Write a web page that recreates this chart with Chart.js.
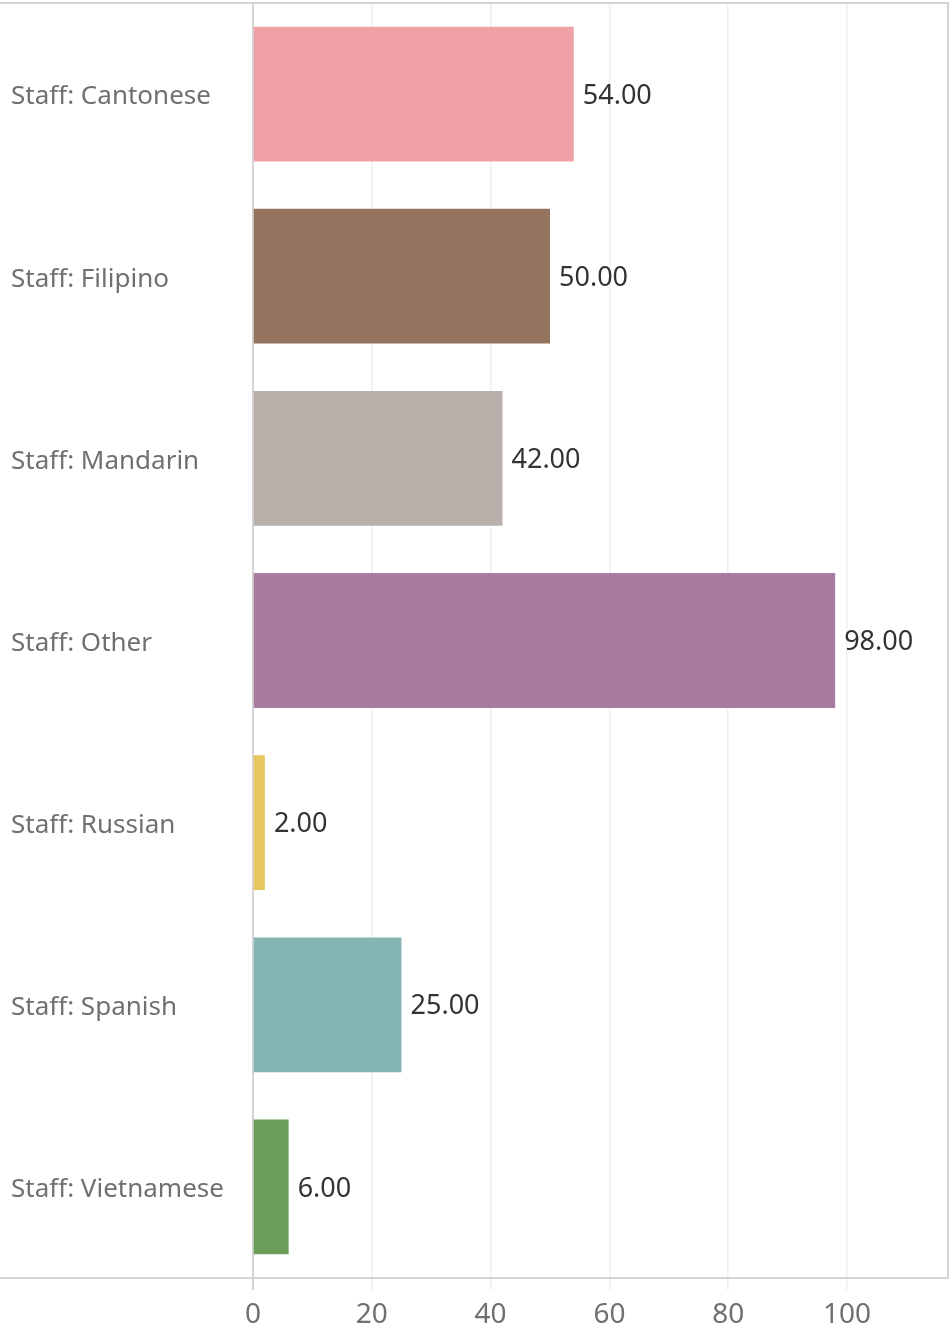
<!DOCTYPE html>
<html>
<head>
<meta charset="utf-8">
<script src="https://cdn.jsdelivr.net/npm/chart.js@4/dist/chart.umd.min.js"></script>
<style>
  body { margin: 0; background: #fff; }
  #wrap { width: 951px; height: 1328px; position: relative; }
</style>
</head>
<body>
<div id="wrap"><canvas id="staffChart"></canvas></div>
<script>
var categories = ['Staff: Cantonese', 'Staff: Filipino', 'Staff: Mandarin', 'Staff: Other',
                  'Staff: Russian', 'Staff: Spanish', 'Staff: Vietnamese'];
var staffCounts = [54, 50, 42, 98, 2, 25, 6];
var barColors = ['#f0a1a7', '#94735f', '#b9b0ab', '#a97c9f', '#e6c65e', '#85b5b3', '#6a9e58'];
var xTicks = [0, 20, 40, 60, 80, 100];

// frame lines: top, right, bottom (full width) and the zero axis running a bit below
var framePlugin = {
    id: 'frame',
    beforeDatasetsDraw: function (chart) {
        var ctx = chart.ctx, a = chart.chartArea;
        ctx.save();
        ctx.strokeStyle = '#d4d4d4';
        ctx.lineWidth = 2;
        ctx.beginPath();
        ctx.moveTo(0, a.top);
        ctx.lineTo(a.right, a.top);
        ctx.lineTo(a.right, a.bottom);
        ctx.lineTo(0, a.bottom);
        ctx.stroke();
        ctx.beginPath();
        ctx.moveTo(a.left, a.top);
        ctx.lineTo(a.left, a.bottom + 12);
        ctx.stroke();
        ctx.restore();
    }
};

var valueLabels = {
    id: 'valueLabels',
    afterDatasetsDraw: function (chart) {
        var ctx = chart.ctx;
        var meta = chart.getDatasetMeta(0);
        ctx.save();
        ctx.font = '27px "Noto Sans"';
        ctx.fillStyle = '#333333';
        ctx.textAlign = 'left';
        ctx.textBaseline = 'middle';
        meta.data.forEach(function (bar, i) {
            ctx.fillText(staffCounts[i].toFixed(2), bar.x + 9, bar.y + 2);
        });
        ctx.restore();
    }
};

var ctx = document.getElementById('staffChart').getContext('2d');
new Chart(ctx, {
    type: 'bar',
    data: {
        labels: categories,
        datasets: [{
            data: staffCounts,
            backgroundColor: barColors,
            barPercentage: 0.74,
            categoryPercentage: 1
        }]
    },
    options: {
        indexAxis: 'y',
        responsive: true,
        maintainAspectRatio: false,
        animation: false,
        layout: { padding: { left: 11, top: 3, right: 3 } },
        plugins: {
            legend: { display: false },
            tooltip: { enabled: false }
        },
        scales: {
            x: {
                min: 0,
                max: 117,
                afterBuildTicks: function (scale) {
                    scale.ticks = xTicks.map(function (v) { return { value: v }; });
                },
                afterFit: function (scale) { scale.height = 50; },
                grid: { color: '#efefef', lineWidth: 1.5, tickLength: 12 },
                border: { display: false },
                ticks: {
                    color: '#707070',
                    padding: 8,
                    font: { family: 'Noto Sans', size: 28 }
                }
            },
            y: {
                afterFit: function (scale) {
                    scale.width = 242;
                    scale.paddingTop = 0;
                    scale.paddingBottom = 0;
                },
                grid: { display: false },
                border: { display: false },
                ticks: {
                    crossAlign: 'far',
                    labelOffset: 3,
                    color: '#707070',
                    font: { family: 'Noto Sans', size: 26 }
                }
            }
        }
    },
    plugins: [framePlugin, valueLabels]
});
</script>
</body>
</html>
